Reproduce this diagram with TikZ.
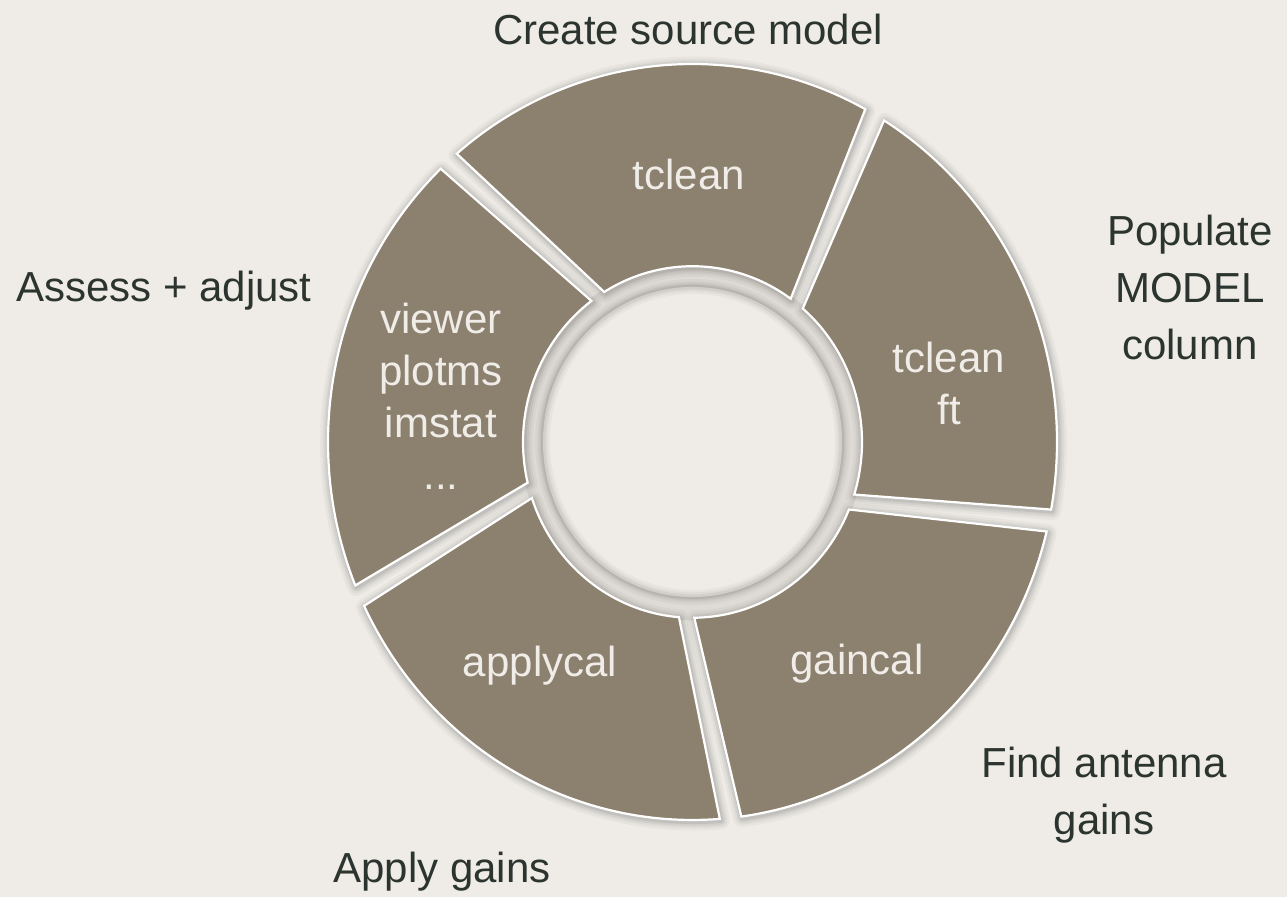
\documentclass[tikz,border=0pt]{standalone}
\usepackage{fontspec}
\setmainfont{Liberation Sans}
\definecolor{bg}{HTML}{EFECE7}
\definecolor{seg}{HTML}{8C806F}
\definecolor{segtxt}{HTML}{F0EDE8}
\definecolor{lbl}{HTML}{2C3430}
\definecolor{band}{HTML}{DEDBD6}
\newcommand\ringseg[4]{(#1:169.5) arc[start angle=#1,end angle=#2,radius=169.5] -- (#4:364.5) arc[start angle=#4,end angle=#3,radius=364.5] -- cycle}
\begin{document}
\begin{tikzpicture}[x=0.5pt,y=0.5pt,
  lab/.style={text=lbl, font=\fontsize{21}{28.5}\selectfont, align=center, inner sep=0pt, anchor=base},
  segtext/.style={text=segtxt, font=\fontsize{21}{26}\selectfont, align=center, inner sep=0pt, anchor=base},
  segfill/.style={fill=seg, draw=white, line width=1.1pt, line join=miter}]
\useasboundingbox (0,0) rectangle (1287,897);
\fill[bg] (0,0) rectangle (1287,897);
\begin{scope}[shift={(692.5,455)}, yscale=1.037]
  \fill[band] (0,0) circle[radius=172];
  % soft shadows of the segments
  \foreach \a/\b/\c/\d in {54.6/121.4/61.7/130.3, 126.6/193.4/133.7/202.3, 198.6/265.4/205.7/274.3, 270.6/337.4/277.7/346.3, 342.6/409.4/349.7/418.3}{
    \foreach \w/\o in {9/0.03, 6.5/0.04, 4.5/0.05, 2.5/0.07}{
      \draw[black, opacity=\o, line width=\w pt, line join=round, shift={(1,-1.5)}] \ringseg{\a}{\b}{\c}{\d};
    }
  }
  % segments
  \foreach \a/\b/\c/\d in {54.6/121.4/61.7/130.3, 126.6/193.4/133.7/202.3, 198.6/265.4/205.7/274.3, 270.6/337.4/277.7/346.3, 342.6/409.4/349.7/418.3}{
    \path[segfill] \ringseg{\a}{\b}{\c}{\d};
  }
  % inner disk with shadow
  \foreach \w/\o in {8/0.03, 5.5/0.04, 3.5/0.05, 2/0.06}{
    \draw[black, opacity=\o, line width=\w pt] (0,0) circle[radius=149.5];
  }
  \fill[bg] (0,0) circle[radius=149.5];
  \begin{scope}
    \clip (0,0) circle[radius=149.5];
    \foreach \w/\o in {7/0.03, 4.5/0.04, 2.5/0.05}{
      \draw[black, opacity=\o, line width=\w pt] (0,0) circle[radius=149.5];
    }
  \end{scope}
\end{scope}
% segment texts (base anchor = baseline of the last line)
\node[segtext] (t1) at (689,707) {tclean};
\node[segtext] (t2) at (949,472) {tclean\\ft};
\node[segtext] (t3) at (857,222) {gaincal};
\node[segtext] (t4) at (540,220) {applycal};
\node[segtext] (t5) at (441,407) {viewer\\plotms\\imstat\\...};
% outer labels
\node[lab] (create) at (688,852) {Create source model};
\node[lab] (assess) at (164,595) {Assess + adjust};
\node[lab] (populate) at (1190,537) {Populate\\MODEL\\column};
\node[lab] (find) at (1104,62) {Find antenna\\gains};
\node[lab] (apply) at (442,14) {Apply gains};
\end{tikzpicture}
\end{document}
